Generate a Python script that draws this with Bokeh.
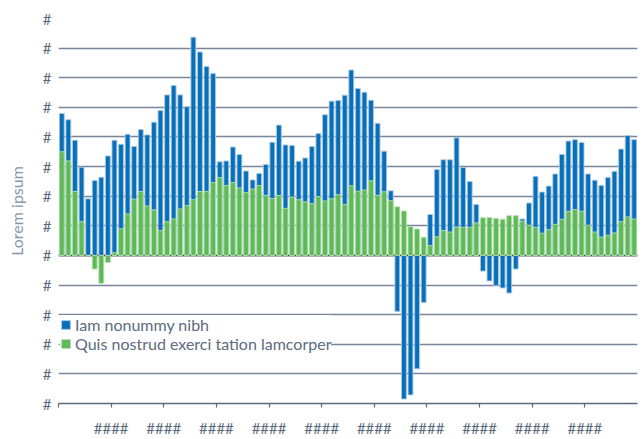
from bokeh.plotting import figure
from bokeh.models import FixedTicker, Span, Legend, LegendItem, ColumnDataSource
from bokeh.embed import file_html
from bokeh.resources import INLINE

# ---- data ----
blue = [4.79, 4.58, 3.89, 2.98, 1.91, 2.53, 2.64, 3.36, 3.89, 3.75, 4.09, 3.68, 4.25, 4.07, 4.50,
        4.89, 5.42, 5.74, 5.42, 5.02, 7.37, 6.87, 6.38, 6.14, 3.16, 3.19, 3.66, 3.41, 2.85, 2.55,
        2.77, 3.07, 3.82, 4.40, 3.73, 3.71, 3.18, 3.29, 3.68, 4.12, 4.75, 5.21, 5.23, 5.41,
        6.26, 5.64, 5.51, 5.24, 4.46, 3.52, 2.18,
        -1.89, -4.85, -4.71, -3.83, -1.59,
        1.38, 2.90, 3.23, 3.23, 3.97, 2.97, 2.50, 1.72,
        -0.53, -0.86, -1.02, -1.10, -1.27, -0.46,
        1.23, 1.77, 2.67, 2.14, 2.34, 2.75, 3.41, 3.86, 3.91, 3.81, 2.75, 2.54, 2.36, 2.63,
        2.84, 3.59, 4.05, 3.91]
green = [3.50, 3.19, 2.16, 1.14, 0.0, -0.46, -0.94, -0.24, 0.09, 0.90, 1.40, 1.90, 2.16, 1.67, 1.54,
         0.84, 1.14, 1.23, 1.57, 1.68, 1.88, 2.16, 2.16, 2.46, 2.63, 2.36, 2.46, 2.28, 2.12, 2.24,
         2.36, 2.03, 1.92, 2.02, 1.59, 1.97, 1.88, 1.81, 1.75, 1.99, 1.84, 1.91, 2.05, 1.72,
         2.35, 2.17, 2.21, 2.52, 2.03, 2.15, 1.85,
         1.64, 1.50, 0.97, 0.89, 0.61,
         0.33, 0.63, 0.84, 0.79, 0.96, 0.95, 0.95, 1.10,
         1.27, 1.28, 1.25, 1.22, 1.34, 1.34,
         1.16, 1.02, 0.95, 0.75, 0.87, 1.05, 1.22, 1.49, 1.55, 1.49, 1.02, 0.79, 0.62, 0.68,
         0.76, 1.14, 1.30, 1.23]
series_names = ["Iam nonummy nibh", "Quis nostrud exerci tation lamcorper"]
y_ticks = list(range(-5, 9))
y_tick_text = "#"
x_ticks = [-0.5 + 8 * k for k in range(11)]
x_tick_text = "####"
y_title = "Lorem ipsum"

idx = list(range(len(blue)))
src = ColumnDataSource(dict(x=idx, blue=blue, green=green))

TXT = "#5b6b7e"
FONT = "Lato"

p = figure(width=643, height=439, output_backend="svg", toolbar_location=None,
           x_range=(-0.5, len(blue) - 0.5), y_range=(-5, 8),
           min_border_left=58, min_border_right=6, min_border_top=18, min_border_bottom=36)
p.outline_line_color = None
p.xgrid.grid_line_color = None
p.ygrid.ticker = FixedTicker(ticks=y_ticks)
p.ygrid.grid_line_color = "#77869a"
p.ygrid.grid_line_width = 1.5

zero = Span(location=0, dimension="width", line_color="#1a1a1a", line_width=1.5, level="underlay")
p.add_layout(zero)

rb = p.vbar(x="x", top="blue", bottom=0, width=0.74, source=src,
            fill_color="#0a6fb7", line_color="#a6cbe9", line_width=0.9)
rg = p.vbar(x="x", top="green", bottom=0, width=0.74, source=src,
            fill_color="#60b958", line_color="#b4dfab", line_width=0.9)

# y axis
ya = p.yaxis[0]
ya.ticker = FixedTicker(ticks=y_ticks)
ya.major_label_overrides = {t: y_tick_text for t in y_ticks}
ya.axis_line_color = None
ya.major_tick_line_color = None
ya.minor_tick_line_color = None
ya.major_label_text_font = FONT
ya.major_label_text_font_size = "15px"
ya.major_label_text_color = TXT
ya.major_label_standoff = 1
ya.axis_label = y_title
ya.axis_label_text_font = FONT
ya.axis_label_text_font_size = "16px"
ya.axis_label_text_font_style = "normal"
ya.axis_label_text_color = "#8a97a5"
ya.axis_label_standoff = 14

# x axis
xa = p.xaxis[0]
xa.ticker = FixedTicker(ticks=x_ticks)
xa.major_label_overrides = {t: ("" if i == 0 else x_tick_text) for i, t in enumerate(x_ticks)}
xa.axis_line_color = TXT
xa.axis_line_width = 1.5
xa.major_tick_line_color = TXT
xa.major_tick_line_width = 1.2
xa.major_tick_out = 4
xa.major_tick_in = 0
xa.minor_tick_line_color = None
xa.major_label_text_font = FONT
xa.major_label_text_font_size = "15px"
xa.major_label_text_color = TXT
xa.major_label_standoff = 11

legend = Legend(items=[LegendItem(label=series_names[0], renderers=[rb]),
                       LegendItem(label=series_names[1], renderers=[rg])],
                location=(2, 50), orientation="vertical")
legend.background_fill_color = "white"
legend.background_fill_alpha = 1.0
legend.border_line_color = None
legend.label_text_font = FONT
legend.label_text_font_size = "16px"
legend.label_text_color = TXT
legend.glyph_width = 11
legend.glyph_height = 11
legend.label_height = 14
legend.label_standoff = 4
legend.spacing = -2
legend.padding = 4
legend.margin = 0
p.add_layout(legend)

open("out.html", "w").write(file_html(p, INLINE))
